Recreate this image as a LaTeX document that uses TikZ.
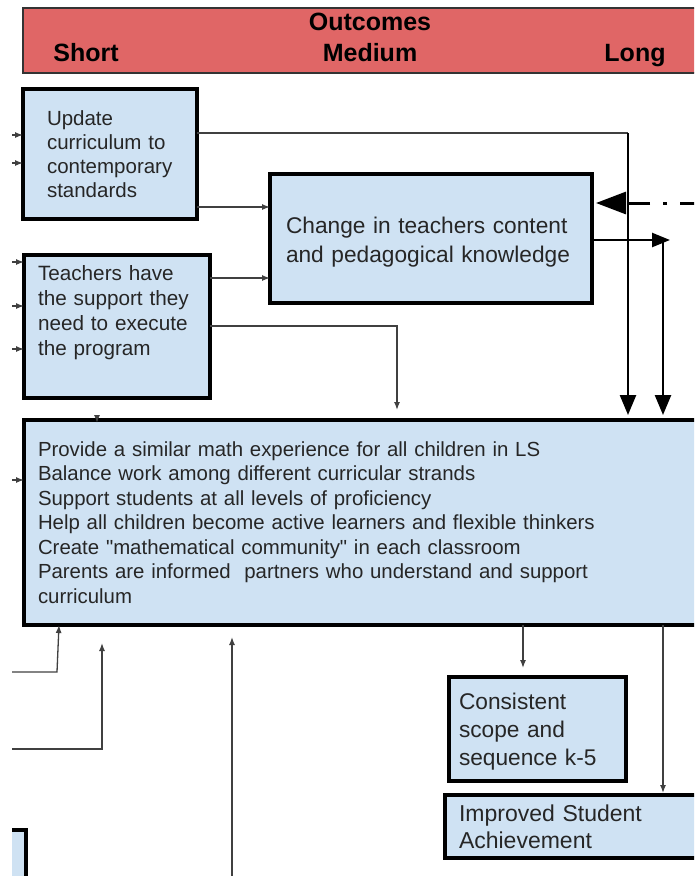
\documentclass[tikz,border=0pt]{standalone}
\usepackage{fontspec}
\setmainfont{Liberation Sans}[Ligatures=TeXOff]
\usetikzlibrary{arrows.meta, positioning, calc}
\definecolor{hdrred}{HTML}{E06666}
\definecolor{boxblue}{HTML}{CFE2F3}
\definecolor{txtgray}{HTML}{262626}

\begin{document}
\begin{tikzpicture}[
    x=1pt, y=-1pt,
    >=Latex,
    box/.style={draw=black, line width=3.5pt, fill=boxblue, rectangle, align=left, text=txtgray, inner ysep=0pt, outer sep=0pt, anchor=north west},
    header/.style={draw=black!80, line width=1.2pt, fill=hdrred, rectangle, inner sep=0pt, outer sep=0pt, anchor=north west},
    hdr/.style={font=\fontsize{25}{30}\selectfont\bfseries, anchor=base, inner sep=0pt},
    conn/.style={draw=black!75, line width=1.3pt, -{Latex[length=8pt,width=6pt]}},
    link/.style={draw=black!75, line width=1.3pt},
    bigconn/.style={draw=black, line width=2.5pt, -{Triangle[length=20pt,width=16pt]}},
    midconn/.style={draw=black, line width=2.5pt, -{Triangle[length=18pt,width=14pt]}},
    dashdot/.style={draw=black, line width=3pt, dash pattern=on 22pt off 13pt on 4pt off 13pt, -{Triangle[length=30pt,width=22pt]}}
    ]
    \useasboundingbox (0,0) rectangle (694,876);
    \clip (12,0) rectangle (694,876);

    % --- naglowek ---
    \node[header, minimum width=720, minimum height=65] (outcomes) at (23,8) {};
    \node[hdr] (outc) at (370,30) {Outcomes};
    \node[hdr] (short) at (86,61) {Short};
    \node[hdr] (medium) at (370,61) {Medium};
    \node[hdr] (long) at (635,61) {Long};

    % --- bloki ---
    \node[box, minimum width=174, minimum height=130, inner xsep=24, text width=126, font=\fontsize{20.5}{24}\selectfont] (update) at (23,89) {Update\\curriculum to\\contemporary\\standards};
    \node[box, minimum width=186, minimum height=143, inner xsep=14, text width=158, font=\fontsize{20.7}{25}\selectfont] (support) at (24,255) {Teachers have\\the support they\\need to execute\\the program\\[8pt]\mbox{}};
    \node[box, minimum width=322, minimum height=129, inner xsep=16, text width=290, font=\fontsize{22.7}{29}\selectfont] (change) at (270,174) {\rule{0pt}{24.5pt}Change in teachers content\\and pedagogical knowledge};
    \node[box, minimum width=720, minimum height=205, inner xsep=14, text width=692, font=\fontsize{20.4}{24.5}\selectfont] (goals) at (24,420) {Provide a similar math experience for all children in LS\\Balance work among different curricular strands\\Support students at all levels of proficiency\\Help all children become active learners and flexible thinkers\\Create "mathematical community" in each classroom\\Parents are informed~ partners who understand and support\\curriculum};
    \node[box, minimum width=177, minimum height=104, inner xsep=10, text width=157, font=\fontsize{22.7}{28}\selectfont] (scope) at (449,677) {\rule{0pt}{22.5pt}Consistent\\scope and\\sequence k-5};
    \node[box, minimum width=300, minimum height=63, inner xsep=14, text width=272, font=\fontsize{23}{27}\selectfont] (achieve) at (445,795) {Improved Student\\Achievement};
    \node[box, minimum width=60, minimum height=80, anchor=north east] (lowbox) at (26,830) {};

    % --- wejscia z lewej ---
    \foreach \y [count=\i] in {135,163} {
        \coordinate (inu\i) at (12,\y);
        \draw[conn] (inu\i) -- (inu\i -| update.west);
    }
    \foreach \y [count=\i] in {262,306,349} {
        \coordinate (ins\i) at (12,\y);
        \draw[conn] (ins\i) -- (ins\i -| support.west);
    }
    \coordinate (ing) at (12,480);
    \draw[conn] (ing) -- (ing -| goals.west);

    % --- polaczenia miedzy blokami ---
    \coordinate (u1) at ([yshift=12pt]update.south east);
    \draw[conn] (u1) -- (u1 -| change.west);
    \coordinate (s1) at ([yshift=-23pt]support.north east);
    \draw[conn] (s1) -- (s1 -| change.west);

    \coordinate (u2) at ([yshift=-44pt]update.north east);
    \coordinate (drop1) at ([xshift=36pt]change.east);
    \draw[link] (u2) -- (u2 -| drop1);
    \draw[bigconn, shorten >=5pt] (u2 -| drop1) -- (drop1 |- goals.north);

    \coordinate (s2) at ([yshift=-71pt]support.north east);
    \coordinate (s2drop) at ([xshift=373pt]goals.north west);
    \draw[conn, shorten >=10pt] (s2) -| (s2drop);

    \coordinate (c1) at ([yshift=-66pt]change.north east);
    \coordinate (c1end) at ([xshift=78pt]c1);
    \coordinate (drop2) at ([xshift=71pt]c1);
    \draw[midconn] (c1) -- (c1end);
    \draw[bigconn, shorten >=5pt] (drop2) -- (drop2 |- goals.north);

    \coordinate (c2) at ([yshift=-29pt]change.north east);
    \coordinate (far) at ([xshift=110pt]c2);
    \draw[dashdot, shorten >=4pt] (far) -- (c2);

    \draw[conn] ([xshift=73pt,yshift=4pt]goals.north west) -- ([xshift=73pt,yshift=-3pt]goals.north west);

    % --- dol ---
    \coordinate (b1) at (12,672);
    \coordinate (b1turn) at ([xshift=45pt]b1);
    \draw[conn] (b1) -- (b1turn) -- ([xshift=35pt]goals.south west);
    \coordinate (b2) at (12,749);
    \draw[conn] (b2) -| ([xshift=78pt,yshift=-18pt]goals.south west);
    \coordinate (b3) at (232,880);
    \draw[conn] (b3) -- ([xshift=208pt,yshift=-12pt]goals.south west);

    \coordinate (g1) at ([xshift=499pt]goals.south west);
    \draw[conn, shorten >=9pt] (g1) -- (g1 |- scope.north);
    \coordinate (g2) at ([xshift=639pt]goals.south west);
    \draw[conn, shorten >=2pt] (g2) -- (g2 |- achieve.north);
\end{tikzpicture}
\end{document}
